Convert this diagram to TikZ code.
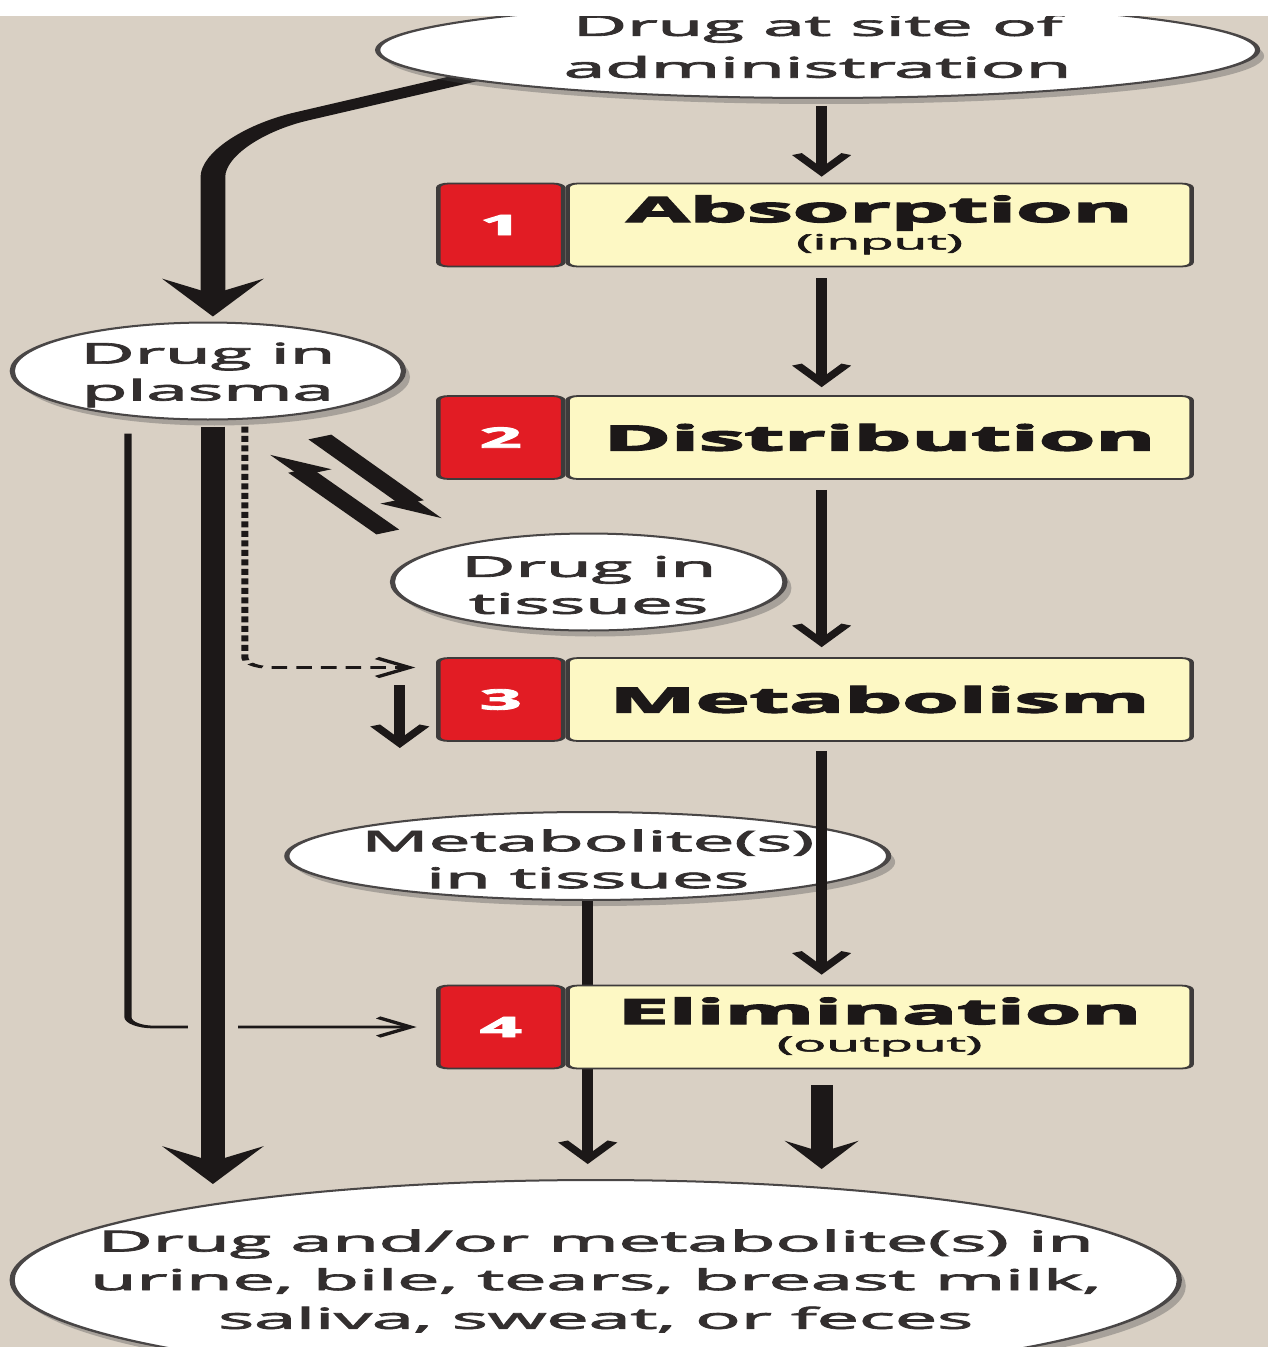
\documentclass[tikz,border=0pt]{standalone}
\usepackage{fontspec}
\setmainfont{Open Sans}[UprightFeatures={FakeBold=2.2}, BoldFeatures={FakeBold=3}]
\usetikzlibrary{arrows.meta,shapes.geometric,shadows,calc}

\definecolor{bgbeige}{RGB}{217,208,196}
\definecolor{boxcream}{RGB}{253,248,196}
\definecolor{stepred}{RGB}{226,28,36}
\definecolor{inkdark}{RGB}{28,24,24}

\tikzset{
  bubble/.style={ellipse, draw=inkdark!80, line width=0.04cm, fill=white, inner sep=0pt,
    drop shadow={shadow xshift=0.05cm, shadow yshift=-0.12cm, opacity=0.35, fill=black!70}},
  bubtxt/.style={align=center, text=inkdark!90, font=\fontsize{16.3}{21}\selectfont},
  stepbox/.style={rectangle, draw=inkdark!85, line width=0.035cm, fill=boxcream,
    rounded corners=0.08cm, minimum width=4.8cm, minimum height=1.66cm, inner sep=0pt,
    align=center, text=inkdark, font=\fontsize{20}{15.5}\selectfont\bfseries},
  numbox/.style={rectangle, draw=inkdark!85, line width=0.035cm, fill=stepred,
    rounded corners=0.08cm, minimum width=0.96cm, minimum height=1.66cm, inner sep=0pt,
    text=white, font=\fontsize{16}{16}\selectfont\bfseries},
  flow/.style={draw=inkdark, line width=0.085cm, -{Straight Barb[length=0.36cm, width=0.38cm]}},
  thinflow/.style={draw=inkdark, line width=0.055cm, -{Straight Barb[length=0.25cm, width=0.38cm]}},
  bigflow/.style={draw=inkdark, line width=0.19cm, -{Stealth[length=0.75cm, width=0.77cm, inset=0.3cm]}},
  fatflow/.style={draw=inkdark, line width=0.17cm, -{Stealth[length=0.56cm, width=0.56cm, inset=0.22cm]}},
  eqflow/.style={draw=inkdark, line width=0.2cm, -{Triangle[harpoon, swap, length=0.4cm, width=0.42cm]}},
}

\begin{document}
\begin{tikzpicture}[x=0.02cm, y=-0.02cm]
  \useasboundingbox (0,0) rectangle (1268,1347);
  \fill[bgbeige] (0,0) rectangle (1268,1347);

  \begin{scope}[transform canvas={xscale=2.6}, x=0.0076923cm]
    % vertical runs
    \coordinate (mainx) at (822,0);
    \coordinate (leftx) at (213,0);
    \coordinate (thinx) at (128,0);
    \coordinate (dashx) at (245,0);
    \coordinate (adminout) at (480,75);

    % site of administration -> plasma
    \node[bubble, minimum width=3.01cm, minimum height=1.94cm] (plasma) at (208,371) {};
    \node[bubtxt] at ($(plasma)+(0,4)$) {Drug in\\plasma};
    \draw[bigflow, rounded corners=0.8cm] (adminout) -- (213,137) -- ($(plasma.north -| leftx)+(0,-5)$);

    \node[bubble, minimum width=6.77cm, minimum height=1.92cm] (admin) at (818,50) {};
    \node[bubtxt, font=\fontsize{16.3}{23.8}\selectfont] at (818,46) {Drug at site of\\administration};

    % the four steps
    \node[stepbox] (abs) at (880,225) {Absorption\\{\fontsize{12}{15.5}\selectfont\mdseries(input)}};
    \node[numbox, anchor=east] (n1) at (abs.west) {1};
    \node[stepbox] (dist) at (880,437.5) {Distribution};
    \node[numbox, anchor=east] (n2) at (dist.west) {2};
    \node[stepbox] (met) at (880,699.5) {Metabolism};
    \node[numbox, anchor=east] (n3) at (met.west) {3};

    % other compartments
    \node[bubble, minimum width=3.02cm, minimum height=1.94cm] (tissues) at (589,582) {};
    \node[bubtxt] at ($(tissues)+(0,3)$) {Drug in\\tissues};
    \node[bubble, minimum width=4.63cm, minimum height=1.76cm] (metab) at (588,856) {};
    \node[bubtxt] at ($(metab)+(0,3)$) {Metabolite(s)\\in tissues};
    \node[bubble, minimum width=8.98cm, minimum height=4cm] (excr) at (596,1280) {};
    \node[bubtxt, font=\fontsize{16.5}{22}\selectfont] at (596,1281)
      {Drug and/or metabolite(s) in\\urine, bile, tears, breast milk,\\saliva, sweat, or feces};

    % metabolites leave behind the elimination box
    \draw[flow, shorten >=0.3cm] (metab.south) -- (metab.south |- excr.north);

    \node[stepbox] (elim) at (880,1027) {Elimination\\{\fontsize{12}{15.5}\selectfont\mdseries(output)}};
    \node[numbox, anchor=east] (n4) at (elim.west) {4};

    % main sequence
    \draw[flow, shorten <=0.14cm, shorten >=0.12cm] (admin.south -| mainx) -- (abs.north -| mainx);
    \draw[flow, shorten <=0.22cm, shorten >=0.16cm] (abs.south -| mainx) -- (dist.north -| mainx);
    \draw[flow, shorten <=0.2cm, shorten >=0.2cm] (dist.south -| mainx) -- (met.north -| mainx);
    \draw[flow, shorten <=0.18cm, shorten >=0.2cm] (met.south -| mainx) -- (elim.north -| mainx);
    \draw[fatflow, shorten <=0.32cm, shorten >=0.2cm] (elim.south -| mainx) -- (excr.north -| mainx);

    % plasma side routes
    \draw[thinflow, rounded corners=0.2cm, shorten >=0.15cm]
      ($(plasma.south -| thinx)+(0,13)$) |- (n4.west);
    \draw[thinflow, dash pattern=on 0.12cm off 0.07cm, rounded corners=0.2cm, shorten >=0.16cm]
      ($(plasma.south -| dashx)+(0,6)$) |- ($(n3.west)+(0,-32)$);
    \draw[bigflow, preaction={draw=bgbeige, line width=0.38cm, -}]
      ($(plasma.south -| leftx)+(0,6)$) -- ($(excr.north -| leftx)+(0,5)$);

    \coordinate (metside) at (400,685);
    \draw[flow] (metside) -- ++(0,63);

    % plasma <-> tissues
    \coordinate (eqA) at (320,437);
    \coordinate (eqB) at (437,520);
    \coordinate (eqC) at (388,532);
    \coordinate (eqD) at (275,453);
    \draw[eqflow] (eqA) -- (eqB);
    \draw[eqflow] (eqC) -- (eqD);
  \end{scope}

  \fill[white] (0,0) rectangle (1268,16);
\end{tikzpicture}
\end{document}
